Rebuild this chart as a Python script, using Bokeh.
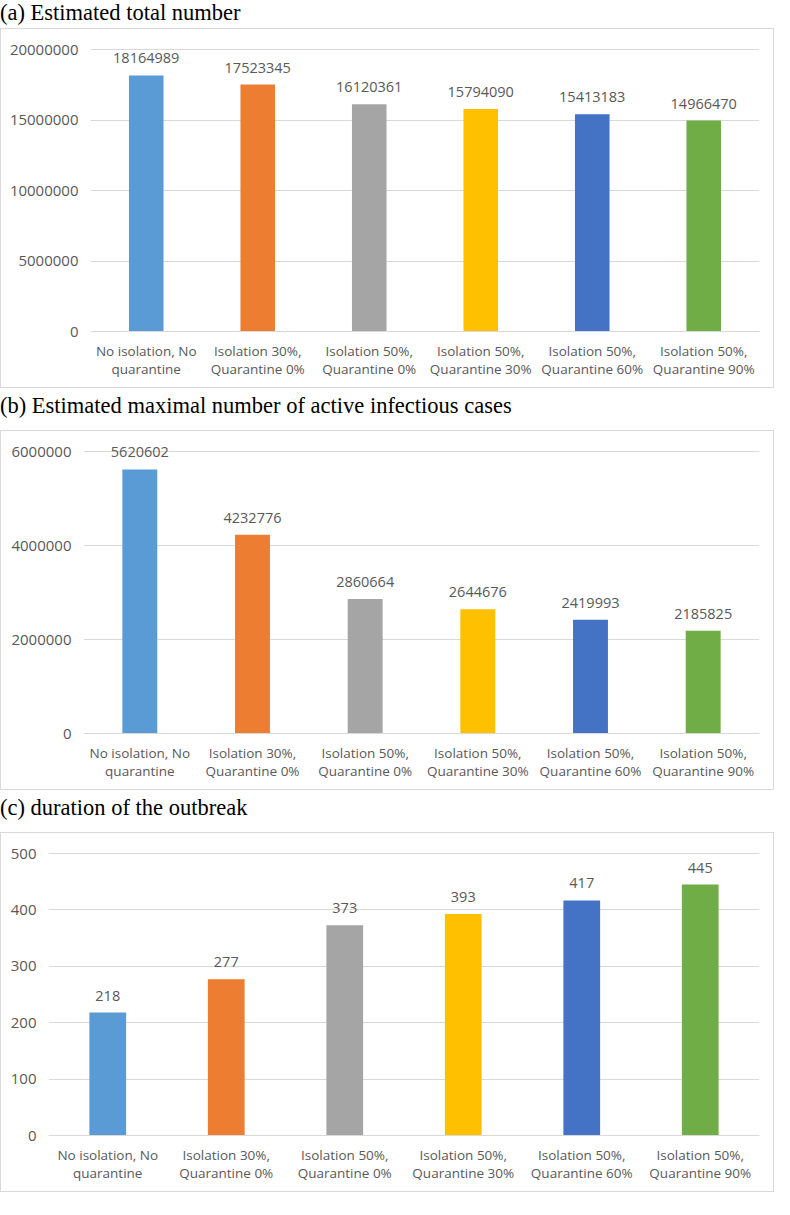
from bokeh.plotting import figure
from bokeh.models import (FactorRange, Range1d, FixedTicker, NumeralTickFormatter,
                          LabelSet, ColumnDataSource, Div)
from bokeh.core.properties import value
from bokeh.layouts import column
from bokeh.embed import file_html
from bokeh.resources import INLINE

categories = ["No isolation, No\nquarantine", "Isolation 30%,\nQuarantine 0%",
              "Isolation 50%,\nQuarantine 0%", "Isolation 50%,\nQuarantine 30%",
              "Isolation 50%,\nQuarantine 60%", "Isolation 50%,\nQuarantine 90%"]
colors = ["#5B9BD5", "#ED7D31", "#A5A5A5", "#FFC000", "#4472C4", "#70AD47"]

total_number = [18164989, 17523345, 16120361, 15794090, 15413183, 14966470]
max_active = [5620602, 4232776, 2860664, 2644676, 2419993, 2185825]
duration = [218, 277, 373, 393, 417, 445]

titles = ["(a) Estimated total number",
          "(b) Estimated maximal number of active infectious cases",
          "(c) duration of the outbreak"]
ticks_a = [0, 5000000, 10000000, 15000000, 20000000]
ticks_b = [0, 2000000, 4000000, 6000000]
ticks_c = [0, 100, 200, 300, 400, 500]

FONT = "Open Sans"
TXT = "#595959"
GRID = "#d9d9d9"
BOX_W = 774
BOX_H = 360
TOP = 20          # px from box top to top gridline
BOTTOM = 56       # px from box bottom to zero line
HEAD = 0.05       # extra headroom fraction above the top tick (for labels)


def make_panel(vals, ticks, left):
    src = ColumnDataSource(dict(cat=categories, val=vals, color=colors,
                                label=[str(v) for v in vals]))
    inner_h = BOX_H - 2
    span = inner_h - TOP - BOTTOM
    p = figure(x_range=FactorRange(*categories),
               y_range=Range1d(0, ticks[-1] * (1 + HEAD)),
               width=BOX_W - 2, height=inner_h, output_backend="svg",
               toolbar_location=None, min_border_left=left, min_border_right=14,
               min_border_top=int(round(TOP - span * HEAD)), min_border_bottom=BOTTOM)
    p.vbar(x="cat", top="val", width=0.31, fill_color="color", line_color=None, source=src)
    labels = LabelSet(x="cat", y="val", text="label", source=src, text_align="center",
                      text_baseline="middle", y_offset=17, text_font=value(FONT),
                      text_font_size="14.5px", text_color=TXT)
    p.add_layout(labels)
    p.outline_line_color = None
    p.xgrid.grid_line_color = None
    p.ygrid.grid_line_color = GRID
    p.ygrid.grid_line_width = 1
    p.yaxis.ticker = FixedTicker(ticks=ticks)
    p.yaxis.formatter = NumeralTickFormatter(format="0")
    p.yaxis.axis_line_color = None
    p.yaxis.major_tick_line_color = None
    p.yaxis.minor_tick_line_color = None
    p.yaxis.major_tick_out = 0
    p.yaxis.major_tick_in = 0
    p.yaxis.major_label_standoff = 12
    p.yaxis.major_label_text_font = FONT
    p.yaxis.major_label_text_font_size = "15px"
    p.yaxis.major_label_text_color = TXT
    p.xaxis.axis_line_color = GRID
    p.xaxis.major_tick_line_color = None
    p.xaxis.minor_tick_line_color = None
    p.xaxis.major_tick_out = 0
    p.xaxis.major_tick_in = 0
    p.xaxis.major_label_standoff = 10
    p.xaxis.major_label_text_font = FONT
    p.xaxis.major_label_text_font_size = "13.5px"
    p.xaxis.major_label_text_color = TXT
    p.xaxis.major_label_text_line_height = 1.0
    box = column(p, width=BOX_W, height=BOX_H,
                 styles={"border": "1px solid " + GRID, "box-sizing": "border-box"})
    return box


def make_title(text, height, top):
    return Div(text='<div style="margin-top:%dpx">%s</div>' % (top, text),
               width=BOX_W, height=height, margin=0,
               styles={"font-family": "'Liberation Serif', 'Times New Roman', serif",
                       "font-size": "22.5px", "color": "#000000", "line-height": "25px"})


layout = column(
    make_title(titles[0], 28, -3),
    make_panel(total_number, ticks_a, 89),
    make_title(titles[1], 42, 5),
    make_panel(max_active, ticks_b, 82),
    make_title(titles[2], 42, 5),
    make_panel(duration, ticks_c, 47),
    spacing=0,
)

open("out.html", "w").write(file_html(layout, INLINE))
